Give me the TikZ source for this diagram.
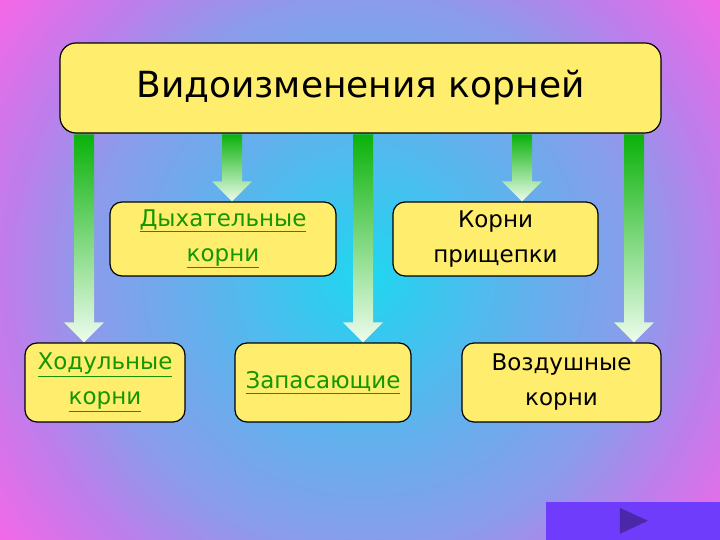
\documentclass[tikz,border=0pt]{standalone}
\usepackage{fontspec}
\setmainfont{DejaVu Sans}
\usetikzlibrary{positioning}
\usetikzlibrary{calc}
\definecolor{boxyellow}{RGB}{255,238,110}
\definecolor{linkgreen}{RGB}{20,150,0}
\definecolor{arrowgreen}{RGB}{10,178,10}
\definecolor{arrowwhite}{RGB}{238,252,238}
\definecolor{bgcyan}{RGB}{30,215,240}
\definecolor{bglight}{RGB}{95,178,237}
\definecolor{bglav}{RGB}{140,155,235}
\definecolor{bgviolet}{RGB}{190,125,235}
\definecolor{bgpink}{RGB}{242,105,232}
\definecolor{btnpurple}{RGB}{110,60,250}
\definecolor{btndark}{RGB}{75,40,170}
\tikzset{
    rootbox/.style = {rectangle, rounded corners=12pt, draw=black, line width=1.2pt, fill=boxyellow, align=center, inner sep=0pt, font=\fontsize{23}{35}\selectfont},
    titlebox/.style = {rootbox, rounded corners=16pt, font=\fontsize{36}{40}\selectfont},
    arrowfill/.style = {top color=arrowgreen, bottom color=arrowwhite},
    nextbtn/.style = {rectangle, fill=btnpurple, minimum width=174pt, minimum height=38pt, inner sep=0pt}
}
\newcommand{\lnk}[1]{\textcolor{linkgreen}{\underline{#1}}}
% block arrow: #1 = x of the shaft, #2 = target box
\newcommand{\rootarrow}[2]{%
  \path (#1,0 |- top.south) coordinate (s) (#1,0 |- #2.north) coordinate (t);
  \shade[arrowfill] ([xshift=-10pt,yshift=-0.7pt]s) -- ([xshift=-10pt,yshift=20pt]t)
    -- ([xshift=-20pt,yshift=20pt]t) -- (t) -- ([xshift=20pt,yshift=20pt]t)
    -- ([xshift=10pt,yshift=20pt]t) -- ([xshift=10pt,yshift=-0.7pt]s) -- cycle;
}
\begin{document}
\begin{tikzpicture}[x=1pt,y=1pt]
% background, drawn as rings
\path[use as bounding box] (0,0) rectangle (720,540);
\clip (0,0) rectangle (720,540);
\coordinate (bgc) at (365,265);
\foreach \r in {460,455,...,365} {
  \pgfmathtruncatemacro\p{min(100,(\r-360)/90*100)}
  \fill[bgpink!\p!bgviolet] (bgc) circle (\r);
}
\foreach \r in {360,355,...,285} {
  \pgfmathtruncatemacro\p{(\r-280)/80*100}
  \fill[bgviolet!\p!bglav] (bgc) circle (\r);
}
\foreach \r in {280,275,...,165} {
  \pgfmathtruncatemacro\p{(\r-160)/120*100}
  \fill[bglav!\p!bglight] (bgc) circle (\r);
}
\foreach \r in {160,155,...,5} {
  \pgfmathtruncatemacro\p{\r/160*100}
  \fill[bglight!\p!bgcyan] (bgc) circle (\r);
}
%
\node[titlebox, minimum width=601pt, minimum height=90pt] at (360.5,452) (top) {Видоизменения корней};
\node[rootbox, minimum width=226pt, minimum height=74pt] at (223,301) (breath) {\lnk{Дыхательные}\\\lnk{корни}};
\node[rootbox, minimum width=205pt, minimum height=74pt] at (495.5,301) (clip) {Корни\\прищепки};
\node[rootbox, minimum width=160pt, minimum height=79pt] at (105,157.5) (stilt) {\lnk{Ходульные}\\\lnk{корни}};
\node[rootbox, minimum width=176pt, minimum height=79pt] at (323,157.5) (store) {\lnk{Запасающие}};
\node[rootbox, minimum width=199pt, minimum height=79pt] at (561.5,157.5) (air) {Воздушные\\корни};
%
\rootarrow{84}{stilt}
\rootarrow{232}{breath}
\rootarrow{363}{store}
\rootarrow{522}{clip}
\rootarrow{634}{air}
%
\node[nextbtn, anchor=south east] at (720,0) (next) {};
\fill[btndark] ([xshift=-13pt,yshift=13pt]next.center) -- ([xshift=-13pt,yshift=-13pt]next.center) -- ([xshift=15pt]next.center) -- cycle;

\end{tikzpicture}
\end{document}
